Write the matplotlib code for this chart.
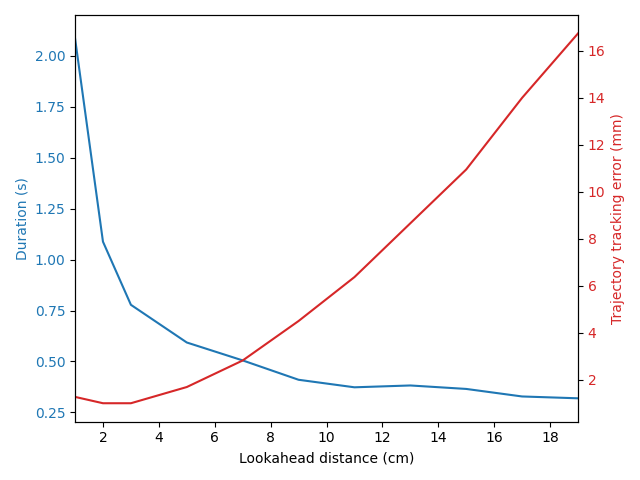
import numpy as np
import matplotlib
matplotlib.use("Agg")
import matplotlib.pyplot as plt

# lookahead distance (cm)
lookahead = [1, 2, 3, 5, 7, 9, 11, 13, 15, 17, 19]
# duration (s)
duration = [2.087, 1.088, 0.778, 0.593, 0.505, 0.410, 0.373, 0.382, 0.365, 0.328, 0.319]
# trajectory tracking error (mm)
tracking_error = [1.27, 1.0, 1.0, 1.69, 2.82, 4.5, 6.37, 8.66, 10.95, 14.0, 16.74]

fig, ax1 = plt.subplots(figsize=(6.4, 4.8), dpi=100)

color = 'tab:blue'
ax1.set_xlabel('Lookahead distance (cm)')
ax1.set_ylabel('Duration (s)', color=color)
ax1.plot(lookahead, duration, color=color)
ax1.tick_params(axis='y', labelcolor=color)
ax1.set_xlim(1, 19)
ax1.set_ylim(0.204, 2.201)

ax2 = ax1.twinx()
color = 'tab:red'
ax2.set_ylabel('Trajectory tracking error (mm)', color=color)
ax2.plot(lookahead, tracking_error, color=color)
ax2.tick_params(axis='y', labelcolor=color)

fig.tight_layout()
fig.savefig('out.png')
